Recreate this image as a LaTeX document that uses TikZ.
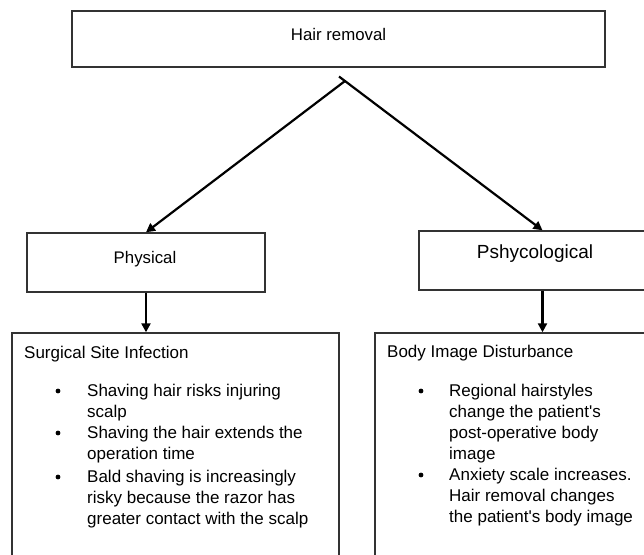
\documentclass[tikz,border=0pt]{standalone}
\usepackage{fontspec}
\setmainfont{Liberation Sans}
\usetikzlibrary{arrows.meta}
\begin{document}
\begin{tikzpicture}[x=1pt,y=-1pt,
  box/.style={draw=black!80, line width=1.4pt, rectangle, inner sep=0pt},
  conn/.style={line width=2.2pt, -{Triangle[width=9pt,length=9pt]}},
  lbl/.style={inner sep=0pt, anchor=base, font=\fontsize{16.8}{20}\selectfont},
  body/.style={inner sep=0pt, anchor=base west, font=\fontsize{17}{21.3}\selectfont},
  bul/.style={circle, fill=black, inner sep=0pt, minimum size=4.8pt}]
\useasboundingbox (0,0) rectangle (644,554);
\clip (0,0) rectangle (644,554);
% boxes
\node[box, minimum width=533pt, minimum height=56pt] (top) at (338.5,39) {};
\node[box, minimum width=238pt, minimum height=59pt] (phys) at (146,262.5) {};
\node[box, minimum width=247pt, minimum height=59pt] (psy) at (542.5,260.5) {};
\node[box, minimum width=327pt, minimum height=300pt] (bl) at (175.5,483) {};
\node[box, minimum width=338pt, minimum height=300pt] (br) at (544,483) {};
% labels
\node[lbl] (t1) at (338.5,40) {Hair removal};
\node[lbl] (t2) at (145,263) {Physical};
\node[lbl, font=\fontsize{19}{22}\selectfont] (t3) at (535,258) {Pshycological};
% connectors
\coordinate (apexL) at (345,81);
\coordinate (apexR) at (339,76.5);
\draw[conn] (apexL) -- (phys.north);
\draw[conn] (apexR) -- (psy.north);
\draw[conn] (phys.south) -- (phys.south |- bl.north);
\draw[conn] (psy.south) -- (psy.south |- br.north);
% left body
\node[body] (blt) at (24,358) {Surgical Site Infection};
\node[bul] (lb1) at (58,391) {};
\node[bul] (lb2) at (58,433) {};
\node[bul] (lb3) at (58,477) {};
\node[body] (li1) at (87,396) {\begin{tabular}[t]{@{}l@{}}Shaving hair risks injuring\\scalp\end{tabular}};
\node[body] (li2) at (87,438) {\begin{tabular}[t]{@{}l@{}}Shaving the hair extends the\\operation time\end{tabular}};
\node[body] (li3) at (87,482) {\begin{tabular}[t]{@{}l@{}}Bald shaving is increasingly\\risky because the razor has\\greater contact with the scalp\end{tabular}};
% right body
\node[body] (brt) at (387,357) {Body Image Disturbance};
\node[bul] (rb1) at (421,391) {};
\node[bul] (rb2) at (421,475) {};
\node[body] (ri1) at (449,396) {\begin{tabular}[t]{@{}l@{}}Regional hairstyles\\change the patient\textquotesingle s\\post-operative body\\image\end{tabular}};
\node[body] (ri2) at (449,480) {\begin{tabular}[t]{@{}l@{}}Anxiety scale increases.\\Hair removal changes\\the patient\textquotesingle s body image\end{tabular}};
\end{tikzpicture}
\end{document}
